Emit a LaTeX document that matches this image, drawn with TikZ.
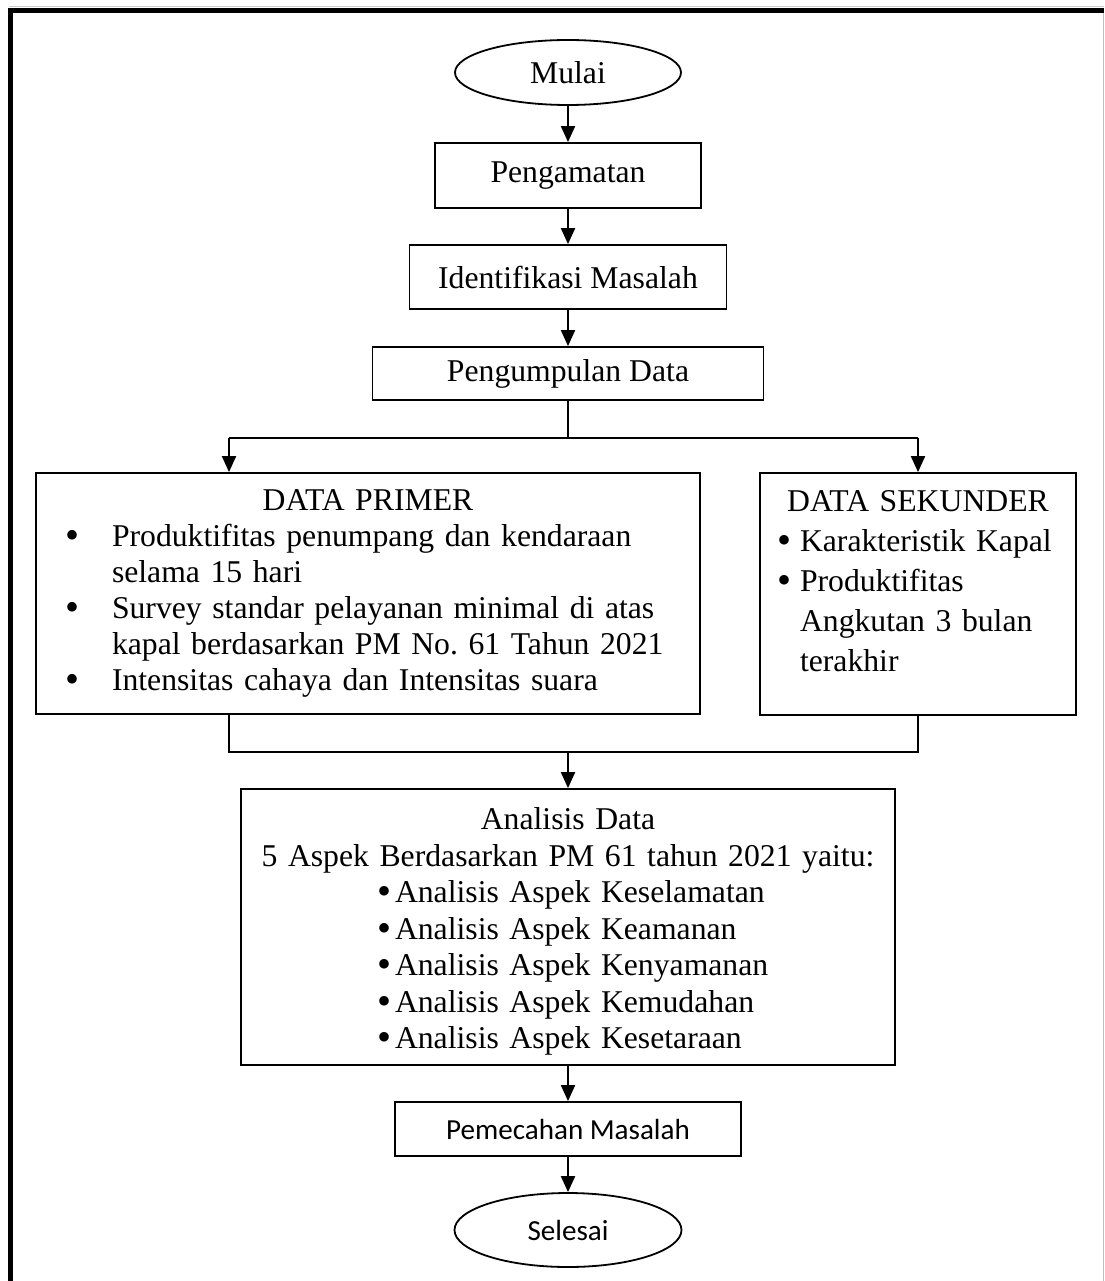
\documentclass[tikz,border=0pt]{standalone}
\usepackage{fontspec}
\setmainfont{Liberation Serif}
\newfontfamily\calibri{Carlito}
\usepackage{tikz}
\usetikzlibrary{positioning,shapes.geometric,arrows.meta}
\setlength{\parindent}{0pt}
\frenchspacing
\newcommand{\blt}[2]{\makebox[0pt][l]{\hspace*{\dimexpr#1-6pt\relax}\raisebox{-2pt}{\fontsize{40}{40}\selectfont\textbullet}}\hspace*{#2}}

\begin{document}
\begin{tikzpicture}[x=1pt,y=-1pt,
    >={Triangle[length=16pt,width=14pt]},
    box/.style={draw,line width=1.8pt,inner sep=0pt,font=\fontsize{31.7}{36}\selectfont},
    oval/.style={draw,ellipse,line width=1.8pt,inner sep=0pt},
    flow/.style={->,line width=2pt}]
  \useasboundingbox (0,0) rectangle (1104,1281);
  % page frame
  \draw[gray!40,line width=1pt] (9,7) -- (1104,7);
  \draw[line width=4.5pt] (10.5,1281) -- (10.5,10.5) -- (1104,10.5);
  \draw[gray!50,line width=1pt] (1103,13) -- (1103,1281);

  % main column
  \node[oval,minimum width=226pt,minimum height=65pt,font=\fontsize{31.7}{36}\selectfont] (mulai) at (568,72.5) {Mulai};
  \node[box,minimum width=266pt,minimum height=65pt] (amat) at (568,175.5) {Pengamatan};
  \node[box,minimum width=317pt,minimum height=64pt] (identifikasi) at (568,277) {Identifikasi Masalah};
  \node[box,minimum width=391pt,minimum height=53pt] (kumpul) at (568,373.5) {Pengumpulan Data};

  % data boxes
  \node[box,text width=664pt,minimum height=241pt] (primer) at (368,593.5) {%
    \centering DATA PRIMER\par
    \raggedright
    \blt{35pt}{76pt}Produktifitas penumpang dan kendaraan\\
    \hspace*{76pt}selama 15 hari\\
    \blt{35pt}{76pt}Survey standar pelayanan minimal di atas\\
    \hspace*{76pt}kapal berdasarkan PM No. 61 Tahun 2021\\
    \blt{35pt}{76pt}Intensitas cahaya dan Intensitas suara\par};
  \node[box,text width=316pt,minimum height=242pt,font=\fontsize{31.7}{40}\selectfont] (sekunder) at (918,594) {%
    \centering DATA SEKUNDER\par
    \raggedright
    \blt{23pt}{40pt}Karakteristik Kapal\\
    \blt{23pt}{40pt}Produktifitas\\
    \hspace*{40pt}Angkutan 3 bulan\\
    \hspace*{40pt}terakhir\rule[-26pt]{0pt}{26pt}\par};

  \node[box,text width=654pt,minimum height=276pt,font=\fontsize{31.7}{36.5}\selectfont] (analisis) at (568,927) {%
    \centering\rule{0pt}{31pt}Analisis Data\par
    5 Aspek Berdasarkan PM 61 tahun 2021 yaitu:\par
    \raggedright
    \blt{142pt}{154pt}Analisis Aspek Keselamatan\\
    \blt{142pt}{154pt}Analisis Aspek Keamanan\\
    \blt{142pt}{154pt}Analisis Aspek Kenyamanan\\
    \blt{142pt}{154pt}Analisis Aspek Kemudahan\\
    \blt{142pt}{154pt}Analisis Aspek Kesetaraan\par};

  \node[box,minimum width=346pt,minimum height=54pt,font=\calibri\fontsize{29.1}{34}\selectfont] (pecah) at (568,1129) {Pemecahan Masalah};
  \node[oval,minimum width=227pt,minimum height=74pt,font=\calibri\fontsize{29.1}{34}\selectfont] (selesai) at (568,1230) {Selesai};

  % connectors
  \coordinate (bagi) at (568,438);
  \coordinate (bagiL) at (229,438);
  \coordinate (bagiR) at (918,438);
  \coordinate (gabung) at (568,752);
  \coordinate (gabungL) at (229,752);
  \coordinate (gabungR) at (918,752);

  \draw[flow] (mulai) -- (amat);
  \draw[flow] (amat) -- (identifikasi);
  \draw[flow] (identifikasi) -- (kumpul);
  \draw[line width=2pt] (kumpul) -- (bagi);
  \draw[line width=2pt] (bagiL) -- (bagiR);
  \draw[flow] (bagiL) -- (bagiL |- primer.north);
  \draw[flow] (bagiR) -- (sekunder);
  \draw[line width=2pt] (primer.south -| gabungL) -- (gabungL) -- (gabungR) -- (sekunder.south -| gabungR);
  \draw[flow] (gabung) -- (analisis);
  \draw[flow] (analisis) -- (pecah);
  \draw[flow] (pecah) -- (selesai);
\end{tikzpicture}
\end{document}
